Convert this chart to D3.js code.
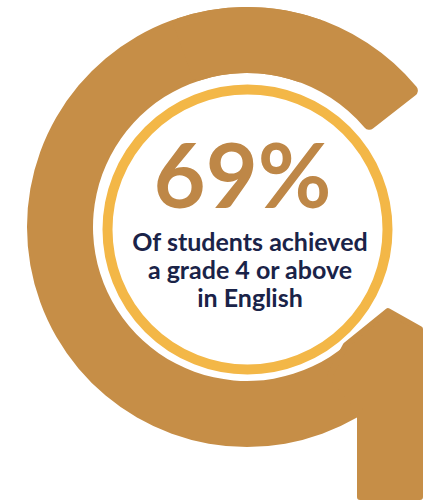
<!DOCTYPE html>
<html><head><meta charset="utf-8">
<script src="https://cdn.jsdelivr.net/npm/d3@7"></script>
<style>html,body{margin:0;padding:0;background:#fff;overflow:hidden}svg{display:block}</style>
</head><body>
<script>
// ---- data ----
const statValue = [69];
const statUnit = ["%"];
const captionLines = ["Of students achieved", "a grade 4 or above", "in English"];

const W = 434, H = 502;
const svg = d3.select("body").append("svg").attr("width", W).attr("height", H);

const BROWN = "#C68E47", YELLOW = "#F3B747", NUM = "#BE8747", NAVY = "#1A2348";
const cx = 247, cy = 227;

// angle scale (degrees -> radians)
const ang = d3.scaleLinear().domain([0, 360]).range([0, 2 * Math.PI]);

const g = svg.append("g").attr("transform", `translate(${cx},${cy})`);
const arcMain = d3.arc().innerRadius(154).outerRadius(220);
g.append("path").attr("fill", BROWN)
  .attr("d", arcMain({startAngle: ang(-220), endAngle: ang(20)}));
g.append("path").attr("fill", BROWN)
  .attr("d", arcMain.cornerRadius(6)({startAngle: ang(-20), endAngle: ang(52)}));

// tail of the "G"
const tail = [[388,311],[420,329],[420,497],[360,497],[360,410],[330,375],[346,345]];
svg.append("path").attr("fill", BROWN).attr("stroke", BROWN)
  .attr("stroke-width", 6).attr("stroke-linejoin", "round")
  .attr("d", d3.line()(tail) + "Z");

// inner yellow ring
svg.append("circle").attr("cx", 247.5).attr("cy", 229.5).attr("r", 140)
  .attr("fill", "#fff").attr("stroke", YELLOW).attr("stroke-width", 10);

function fitText(sel, targetW) {
  const w = sel.node().getComputedTextLength();
  const fs = parseFloat(sel.attr("font-size"));
  sel.attr("font-size", fs * targetW / w);
}
// big number
const num = svg.append("text").attr("x", 242.5).attr("y", 208)
  .attr("text-anchor", "middle").attr("font-family", "Lato, sans-serif")
  .attr("font-weight", 700).attr("font-size", 95).attr("fill", NUM)
  .text(statValue[0] + statUnit[0]);
fitText(num, 178);

const baselines = [251, 279, 307];
captionLines.forEach((t, i) => {
  svg.append("text").attr("x", 250).attr("y", baselines[i])
    .attr("text-anchor", "middle").attr("font-family", "Lato, sans-serif")
    .attr("font-weight", 700).attr("font-size", 25).attr("fill", NAVY).text(t);
});
</script>
</body></html>
